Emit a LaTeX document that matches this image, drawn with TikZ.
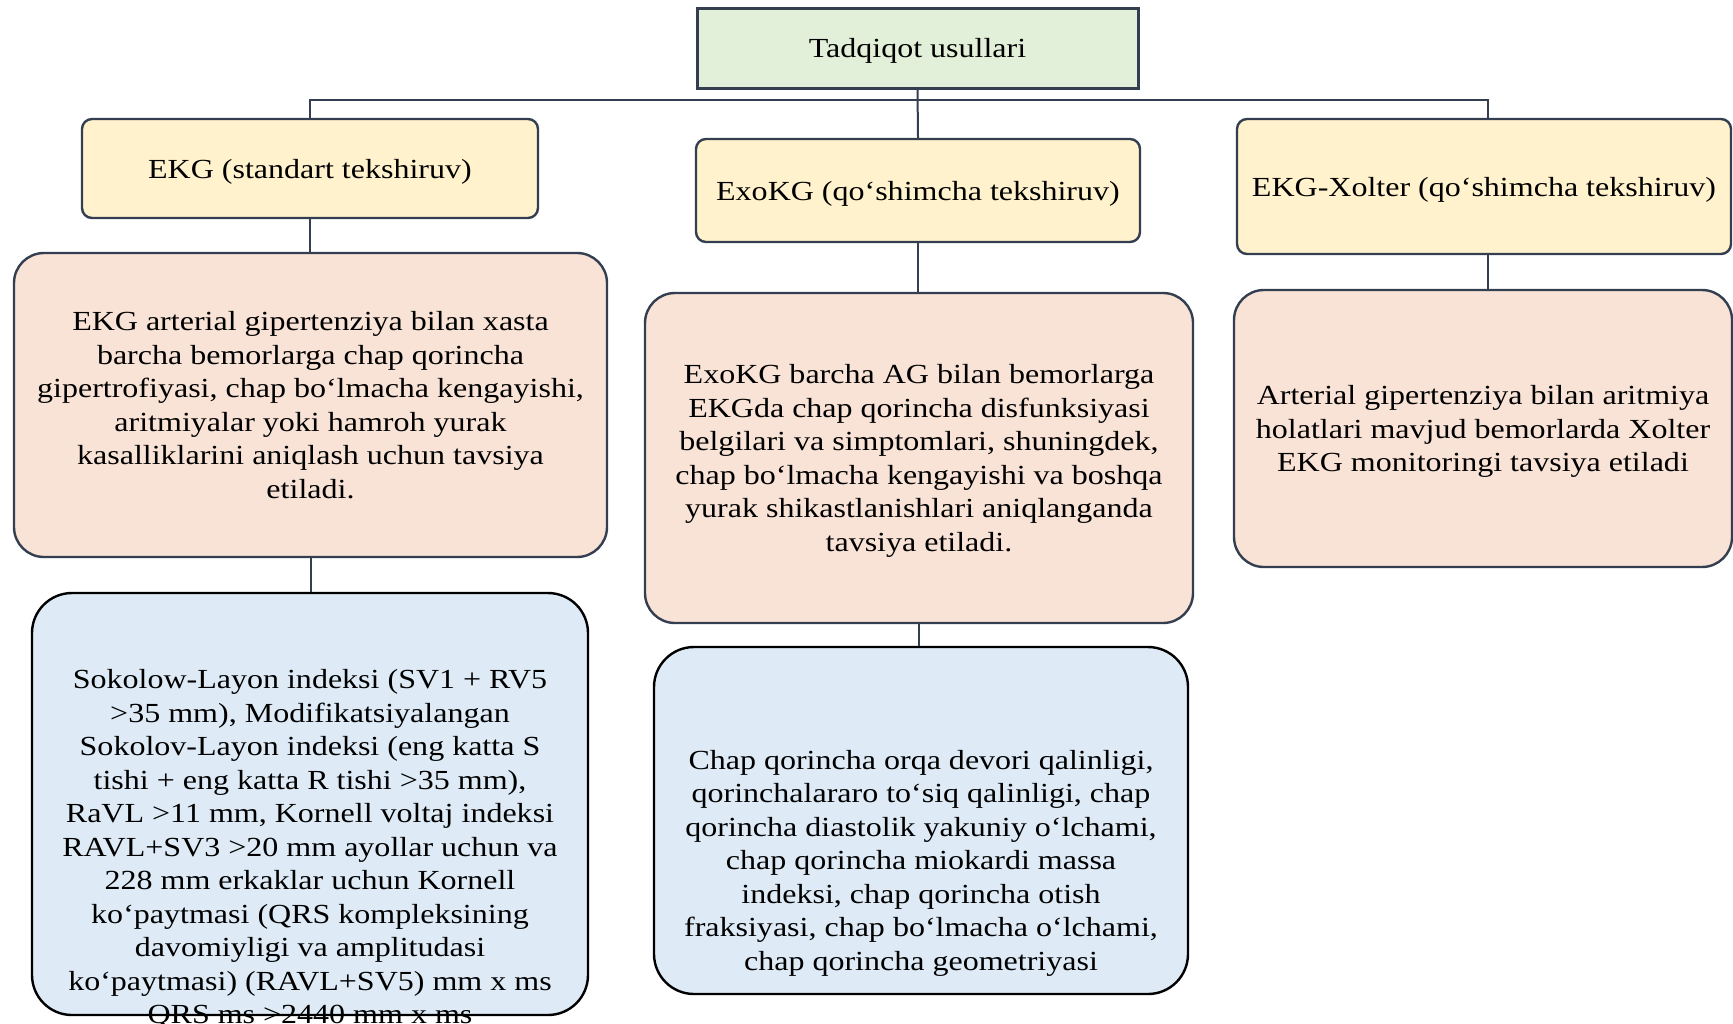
\documentclass[tikz,border=0pt]{standalone}
\usepackage{fontspec}
\setmainfont{Liberation Serif}[FakeStretch=1.16]
\usepackage{tikz}
\usetikzlibrary{positioning}
\definecolor{edge}{HTML}{333F50}
\definecolor{greenfill}{HTML}{E2EFD9}
\definecolor{yellowfill}{HTML}{FFF2CC}
\definecolor{pinkfill}{HTML}{F9E3D6}
\definecolor{bluefill}{HTML}{DEEBF7}
\newcommand{\boxfont}{\fontsize{13.8pt}{16.75pt}\selectfont}

\begin{document}
\begin{tikzpicture}[x=0.5pt, y=-0.5pt,
  every node/.style={font=\boxfont, align=center, inner sep=0pt},
  headbox/.style={draw=edge, line width=1.5pt, fill=greenfill, text depth=-0.3pt},
  methodbox/.style={draw=edge, line width=1.2pt, fill=yellowfill, rounded corners=5pt, text depth=-0.3pt},
  notebox/.style={draw=edge, line width=1.2pt, fill=pinkfill, rounded corners=15pt},
  detailbox/.style={draw=black, line width=1.2pt, fill=bluefill, rounded corners=20pt},
  link/.style={draw=edge, line width=1pt}]
\useasboundingbox (0,0) rectangle (1733,1023);
% Top
\node[headbox, minimum width=220.5pt, minimum height=40pt] (top) at (917.5,48) {Tadqiqot usullari};
% Methods
\node[methodbox, minimum width=228pt, minimum height=49.5pt] (ekg) at (310,168.5) {EKG (standart tekshiruv)};
\node[methodbox, minimum width=222pt, minimum height=51.5pt] (exo) at (918,190.5) {ExoKG (qo‘shimcha tekshiruv)};
\node[methodbox, minimum width=247pt, minimum height=67.5pt] (xol) at (1484,186.5) {EKG-Xolter (qo‘shimcha tekshiruv)};
% Recommendations
\node[notebox, minimum width=296.5pt, minimum height=152pt, text depth=-6pt] (d1) at (310.5,405) {EKG arterial gipertenziya bilan xasta\\
barcha bemorlarga chap qorincha\\
gipertrofiyasi, chap bo‘lmacha kengayishi,\\
aritmiyalar yoki hamroh yurak\\
kasalliklarini aniqlash uchun tavsiya\\
etiladi.};
\node[notebox, minimum width=274pt, minimum height=165pt, text depth=-3.5pt] (d2) at (919,458) {ExoKG barcha AG bilan bemorlarga\\
EKGda chap qorincha disfunksiyasi\\
belgilari va simptomlari, shuningdek,\\
chap bo‘lmacha kengayishi va boshqa\\
yurak shikastlanishlari aniqlanganda\\
tavsiya etiladi.};
\node[notebox, minimum width=249pt, minimum height=138.5pt, text depth=-1.4pt] (d3) at (1483,428.5) {Arterial gipertenziya bilan aritmiya\\
holatlari mavjud bemorlarda Xolter\\
EKG monitoringi tavsiya etiladi};
% Parameters
\node[detailbox, minimum width=278pt, minimum height=211pt] (b1) at (310,804) {};
\node (b1text) at (310,849) {Sokolow-Layon indeksi (SV1 + RV5\\
>35 mm), Modifikatsiyalangan\\
Sokolov-Layon indeksi (eng katta S\\
tishi + eng katta R tishi >35 mm),\\
RaVL >11 mm, Kornell voltaj indeksi\\
RAVL+SV3 >20 mm ayollar uchun va\\
228 mm erkaklar uchun Kornell\\
ko‘paytmasi (QRS kompleksining\\
davomiyligi va amplitudasi\\
ko‘paytmasi) (RAVL+SV5) mm x ms\\
QRS ms >2440 mm x ms};
\node[detailbox, minimum width=267pt, minimum height=173.5pt] (b2) at (921,820.5) {};
\node (b2text) at (921,863) {Chap qorincha orqa devori qalinligi,\\
qorinchalararo to‘siq qalinligi, chap\\
qorincha diastolik yakuniy o‘lchami,\\
chap qorincha miokardi massa\\
indeksi, chap qorincha otish\\
fraksiyasi, chap bo‘lmacha o‘lchami,\\
chap qorincha geometriyasi};
% Links
\coordinate (bar) at (0,100);
\draw[link] (top.south) -- (exo.north);
\draw[link] (ekg.north) -- (ekg.north |- bar) -- ([xshift=2pt]xol.north |- bar) -- ([xshift=2pt]xol.north);
\draw[link] (ekg.south) -- (ekg.south |- d1.north);
\draw[link] (d1.south) -- (d1.south |- b1.north);
\draw[link] (exo.south) -- (exo.south |- d2.north);
\draw[link] (d2.south) -- (d2.south |- b2.north);
\draw[link] ([xshift=2pt]xol.south) -- ([xshift=2pt]xol.south |- d3.north);
\end{tikzpicture}
\end{document}
